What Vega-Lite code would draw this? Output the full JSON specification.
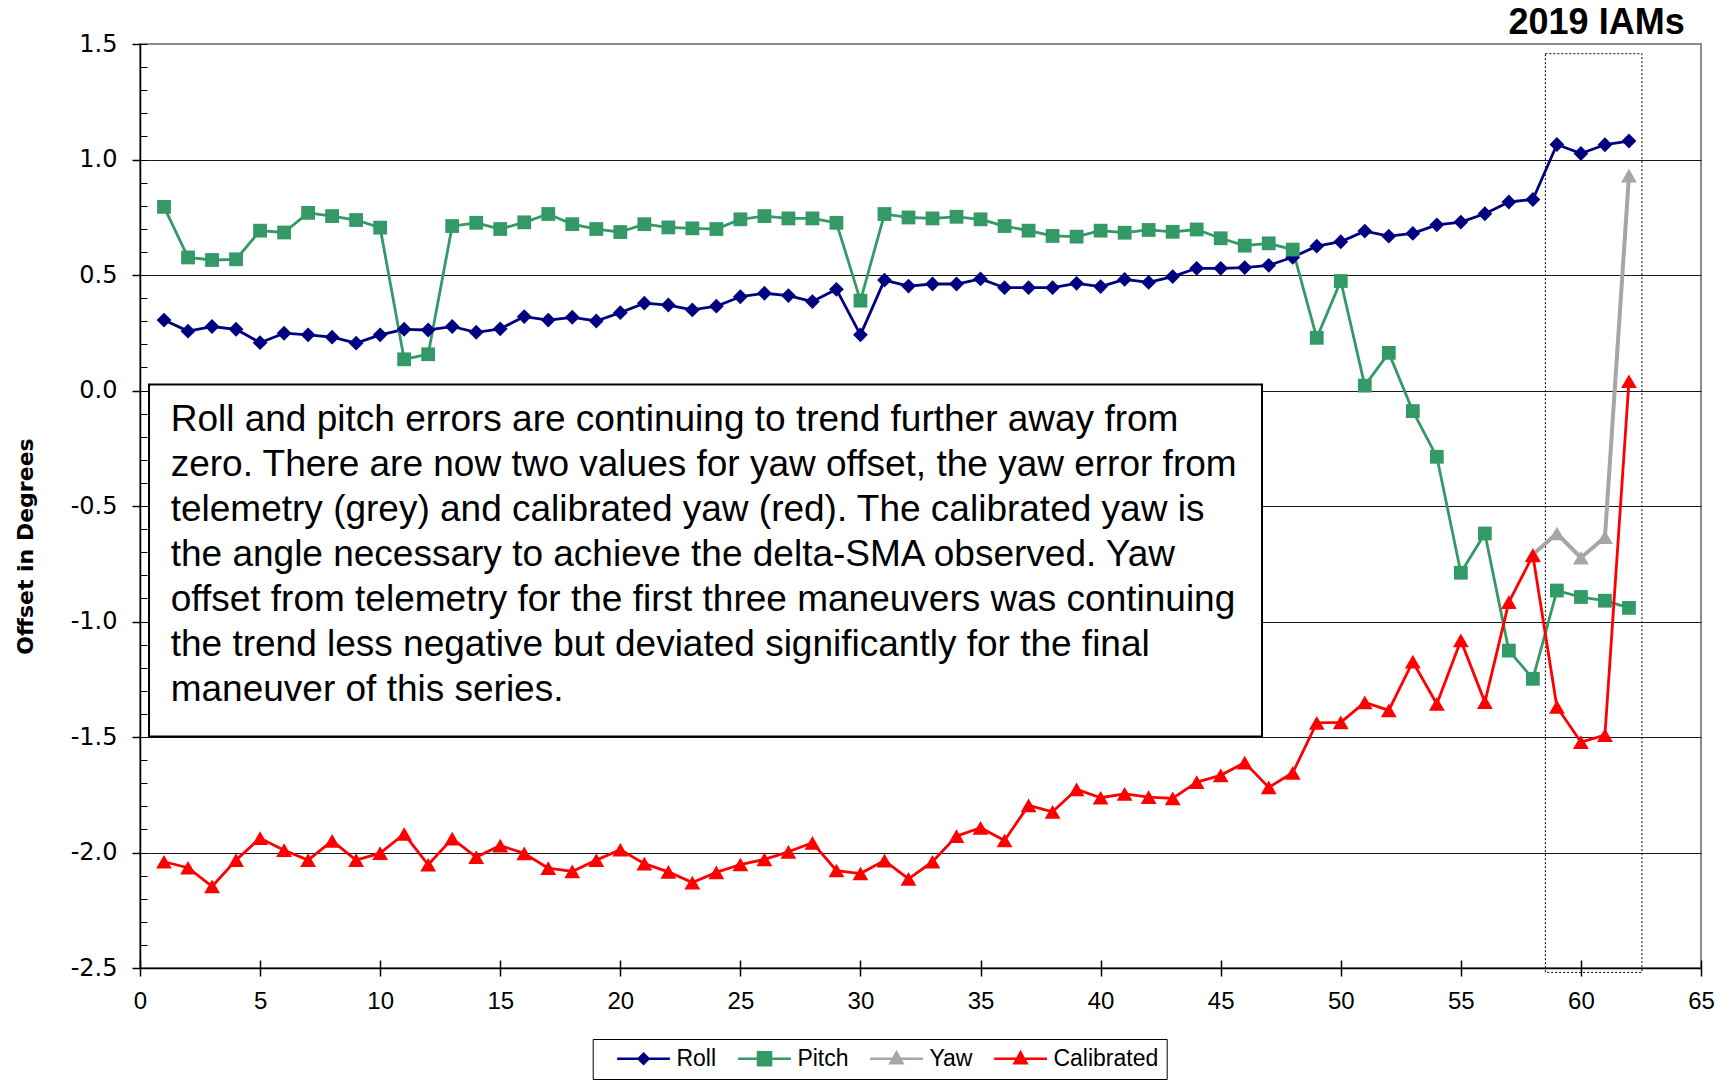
{
  "$schema": "https://vega.github.io/schema/vega-lite/v6.json",
  "width": 1561,
  "height": 924,
  "autosize": {"type": "none"},
  "padding": {"left": 140, "top": 44, "right": 28, "bottom": 113},
  "background": "white",
  "datasets": {
    "series": [
      {"x": 1, "Roll": 0.305, "Pitch": 0.795, "Calibrated": -2.04},
      {"x": 2, "Roll": 0.257, "Pitch": 0.576, "Calibrated": -2.066},
      {"x": 3, "Roll": 0.277, "Pitch": 0.565, "Calibrated": -2.147},
      {"x": 4, "Roll": 0.265, "Pitch": 0.568, "Calibrated": -2.033},
      {"x": 5, "Roll": 0.207, "Pitch": 0.692, "Calibrated": -1.938},
      {"x": 6, "Roll": 0.248, "Pitch": 0.684, "Calibrated": -1.99},
      {"x": 7, "Roll": 0.241, "Pitch": 0.769, "Calibrated": -2.033},
      {"x": 8, "Roll": 0.231, "Pitch": 0.755, "Calibrated": -1.95},
      {"x": 9, "Roll": 0.205, "Pitch": 0.738, "Calibrated": -2.033},
      {"x": 10, "Roll": 0.241, "Pitch": 0.705, "Calibrated": -2.003},
      {"x": 11, "Roll": 0.265, "Pitch": 0.135, "Calibrated": -1.92},
      {"x": 12, "Roll": 0.262, "Pitch": 0.157, "Calibrated": -2.053},
      {"x": 13, "Roll": 0.277, "Pitch": 0.712, "Calibrated": -1.94},
      {"x": 14, "Roll": 0.252, "Pitch": 0.726, "Calibrated": -2.02},
      {"x": 15, "Roll": 0.267, "Pitch": 0.699, "Calibrated": -1.97},
      {"x": 16, "Roll": 0.32, "Pitch": 0.728, "Calibrated": -2.004},
      {"x": 17, "Roll": 0.305, "Pitch": 0.764, "Calibrated": -2.068},
      {"x": 18, "Roll": 0.317, "Pitch": 0.72, "Calibrated": -2.082},
      {"x": 19, "Roll": 0.301, "Pitch": 0.699, "Calibrated": -2.033},
      {"x": 20, "Roll": 0.337, "Pitch": 0.686, "Calibrated": -1.988},
      {"x": 21, "Roll": 0.378, "Pitch": 0.72, "Calibrated": -2.048},
      {"x": 22, "Roll": 0.37, "Pitch": 0.706, "Calibrated": -2.084},
      {"x": 23, "Roll": 0.349, "Pitch": 0.702, "Calibrated": -2.13},
      {"x": 24, "Roll": 0.365, "Pitch": 0.699, "Calibrated": -2.086},
      {"x": 25, "Roll": 0.406, "Pitch": 0.741, "Calibrated": -2.052},
      {"x": 26, "Roll": 0.421, "Pitch": 0.755, "Calibrated": -2.03},
      {"x": 27, "Roll": 0.411, "Pitch": 0.745, "Calibrated": -1.997},
      {"x": 28, "Roll": 0.385, "Pitch": 0.745, "Calibrated": -1.958},
      {"x": 29, "Roll": 0.438, "Pitch": 0.726, "Calibrated": -2.078},
      {"x": 30, "Roll": 0.241, "Pitch": 0.389, "Calibrated": -2.091},
      {"x": 31, "Roll": 0.478, "Pitch": 0.764, "Calibrated": -2.035},
      {"x": 32, "Roll": 0.452, "Pitch": 0.749, "Calibrated": -2.114},
      {"x": 33, "Roll": 0.461, "Pitch": 0.745, "Calibrated": -2.04},
      {"x": 34, "Roll": 0.461, "Pitch": 0.752, "Calibrated": -1.929},
      {"x": 35, "Roll": 0.483, "Pitch": 0.741, "Calibrated": -1.893},
      {"x": 36, "Roll": 0.445, "Pitch": 0.712, "Calibrated": -1.948},
      {"x": 37, "Roll": 0.445, "Pitch": 0.692, "Calibrated": -1.796},
      {"x": 38, "Roll": 0.445, "Pitch": 0.669, "Calibrated": -1.824},
      {"x": 39, "Roll": 0.464, "Pitch": 0.666, "Calibrated": -1.727},
      {"x": 40, "Roll": 0.45, "Pitch": 0.692, "Calibrated": -1.763},
      {"x": 41, "Roll": 0.481, "Pitch": 0.683, "Calibrated": -1.746},
      {"x": 42, "Roll": 0.468, "Pitch": 0.695, "Calibrated": -1.76},
      {"x": 43, "Roll": 0.493, "Pitch": 0.687, "Calibrated": -1.766},
      {"x": 44, "Roll": 0.529, "Pitch": 0.697, "Calibrated": -1.695},
      {"x": 45, "Roll": 0.529, "Pitch": 0.659, "Calibrated": -1.666},
      {"x": 46, "Roll": 0.532, "Pitch": 0.627, "Calibrated": -1.611},
      {"x": 47, "Roll": 0.542, "Pitch": 0.637, "Calibrated": -1.718},
      {"x": 48, "Roll": 0.577, "Pitch": 0.61, "Calibrated": -1.655},
      {"x": 49, "Roll": 0.625, "Pitch": 0.228, "Calibrated": -1.439},
      {"x": 50, "Roll": 0.644, "Pitch": 0.474, "Calibrated": -1.437},
      {"x": 51, "Roll": 0.69, "Pitch": 0.021, "Calibrated": -1.35},
      {"x": 52, "Roll": 0.668, "Pitch": 0.163, "Calibrated": -1.385},
      {"x": 53, "Roll": 0.68, "Pitch": -0.089, "Calibrated": -1.174},
      {"x": 54, "Roll": 0.717, "Pitch": -0.287, "Calibrated": -1.357},
      {"x": 55, "Roll": 0.729, "Pitch": -0.789, "Calibrated": -1.082},
      {"x": 56, "Roll": 0.765, "Pitch": -0.619, "Calibrated": -1.349},
      {"x": 57, "Roll": 0.816, "Pitch": -1.126, "Calibrated": -0.916},
      {"x": 58, "Roll": 0.827, "Pitch": -1.248, "Yaw": -0.71, "Calibrated": -0.714},
      {"x": 59, "Roll": 1.065, "Pitch": -0.866, "Yaw": -0.619, "Calibrated": -1.37},
      {"x": 60, "Roll": 1.026, "Pitch": -0.894, "Yaw": -0.724, "Calibrated": -1.522},
      {"x": 61, "Roll": 1.064, "Pitch": -0.91, "Yaw": -0.635, "Calibrated": -1.492},
      {"x": 62, "Roll": 1.08, "Pitch": -0.941, "Yaw": 0.93, "Calibrated": 0.04}
    ],
    "iamBox": [{"x1": 58.52, "x2": 62.54, "y1": 1.458, "y2": -2.519}],
    "noteBox": [{"x1": 0.375, "x2": 46.72, "y1": 0.0255, "y2": -1.4976}],
    "heading": [{"x": 64.32, "y": 1.544, "t": "2019 IAMs"}],
    "note": [{"x": 1.278, "y": -0.177, "t": [
      "Roll and pitch errors are continuing to trend further away from",
      "zero. There are now two values for yaw offset, the yaw error from",
      "telemetry (grey) and calibrated yaw (red). The calibrated yaw is",
      "the angle necessary to achieve the delta-SMA observed. Yaw",
      "offset from telemetry for the first three maneuvers was continuing",
      "the trend less negative but deviated significantly for the final",
      "maneuver of this series."
    ]}]
  },
  "layer": [
    {
      "data": {"name": "iamBox"},
      "mark": {"type": "rect", "fill": null, "fillOpacity": 0, "stroke": "black", "strokeWidth": 1, "strokeDash": [2, 2]},
      "encoding": {
        "x": {"field": "x1", "type": "quantitative", "scale": {"domain": [0, 65], "nice": false, "zero": false}, "axis": null},
        "x2": {"field": "x2"},
        "y": {"field": "y1", "type": "quantitative", "scale": {"domain": [-2.5, 1.5], "nice": false, "zero": false}, "axis": null},
        "y2": {"field": "y2"}
      }
    },
    {
      "data": {"name": "series"},
      "transform": [
        {"fold": ["Roll", "Pitch", "Yaw", "Calibrated"], "as": ["key", "value"]},
        {"filter": "isValid(datum.value)"}
      ],
      "mark": {"type": "line", "strokeJoin": "round", "strokeWidth": 2.8},
      "encoding": {
        "x": {"field": "x", "type": "quantitative", "scale": {"domain": [0, 65], "nice": false, "zero": false},
          "axis": {"orient": "bottom", "values": [0, 5, 10, 15, 20, 25, 30, 35, 40, 45, 50, 55, 60, 65], "title": null, "grid": false,
            "domainColor": "black", "domainWidth": 1.5, "tickColor": "black", "tickWidth": 1.5, "tickSize": 8,
            "labelFont": "Liberation Sans", "labelFontSize": 24, "labelColor": "black", "labelPadding": 13, "labelFlush": false, "labelOverlap": false}},
        "y": {"field": "value", "type": "quantitative", "scale": {"domain": [-2.5, 1.5], "nice": false, "zero": false},
          "axis": {"orient": "left", "values": [-2.5, -2, -1.5, -1, -0.5, 0, 0.5, 1, 1.5], "grid": false,
            "labelExpr": "replace(format(datum.value, '.1f'), '\u2212', '-')",
            "labelFont": "DejaVu Sans", "labelFontSize": 24, "labelColor": "black", "labelPadding": 15, "labelFlush": false, "labelOverlap": false,
            "tickSize": 8, "tickColor": "black", "tickWidth": 1.5, "domainColor": "black", "domainWidth": 1.5,
            "title": "Offset in Degrees", "titleFont": "DejaVu Sans", "titleFontSize": 22, "titleFontWeight": "bold", "titleColor": "black",
            "titleAngle": -90, "titleBaseline": "alphabetic", "titleAlign": "center", "titleX": -108, "titleY": 502}},
        "color": {"field": "key", "type": "nominal", "scale": {"domain": ["Roll", "Pitch", "Yaw", "Calibrated"], "range": ["#000080", "#339966", "#A6A6A6", "#FF0000"]},
          "legend": {"orient": "none", "legendX": 452.7, "legendY": 995, "direction": "horizontal", "title": null,
            "padding": 8, "strokeColor": "black", "fillColor": "white",
            "symbolSize": 100, "symbolStrokeWidth": 2.5, "symbolOffset": 0, "labelOffset": 52.7, "columnPadding": 5,
            "labelFont": "Liberation Sans", "labelFontSize": 23, "labelColor": "black",
            "encode": {"symbols": {"update": {
              "shape": {"signal": "datum.value === 'Roll' ? 'M1,0H11.54M6.27,-1L7.27,0L6.27,1L5.27,0Z' : datum.value === 'Pitch' ? 'M1,0H11.54M4.97,-1.3H7.57V1.3H4.97Z' : 'M1,0H11.54M6.27,-1.3L7.47,0.9H5.07Z'"},
              "fill": {"scale": "color", "field": "value"},
              "fillOpacity": {"value": 1},
              "strokeWidth": {"value": 2.5},
              "size": {"value": 100}
            }}}}}
      }
    },
    {
      "data": {"name": "series"},
      "transform": [
        {"fold": ["Yaw"], "as": ["key", "value"]},
        {"filter": "isValid(datum.value)"}
      ],
      "mark": {"type": "line", "strokeJoin": "round", "strokeWidth": 4, "color": "#A6A6A6"},
      "encoding": {
        "x": {"field": "x", "type": "quantitative", "scale": {"domain": [0, 65], "nice": false, "zero": false}, "axis": null},
        "y": {"field": "value", "type": "quantitative", "scale": {"domain": [-2.5, 1.5], "nice": false, "zero": false}, "axis": null}
      }
    },
    {
      "data": {"name": "series"},
      "transform": [
        {"fold": ["Roll"], "as": ["key", "value"]},
        {"filter": "isValid(datum.value)"}
      ],
      "mark": {"type": "point", "filled": true, "opacity": 1, "strokeWidth": 0, "shape": "diamond", "size": 220, "color": "#000080"},
      "encoding": {
        "x": {"field": "x", "type": "quantitative", "scale": {"domain": [0, 65], "nice": false, "zero": false},
          "axis": {"orient": "bottom", "values": [0, 5, 10, 15, 20, 25, 30, 35, 40, 45, 50, 55, 60, 65], "title": null, "grid": false,
            "labels": false, "domain": false, "tickSize": -8, "tickColor": "black", "tickWidth": 1.5}},
        "y": {"field": "value", "type": "quantitative", "scale": {"domain": [-2.5, 1.5], "nice": false, "zero": false},
          "axis": {"orient": "left", "values": [-2.5, -2.4, -2.3, -2.2, -2.1, -2, -1.9, -1.8, -1.7, -1.6, -1.5, -1.4, -1.3, -1.2, -1.1, -1, -0.9, -0.8, -0.7, -0.6, -0.5, -0.4, -0.3, -0.2, -0.1, 0, 0.1, 0.2, 0.3, 0.4, 0.5, 0.6, 0.7, 0.8, 0.9, 1, 1.1, 1.2, 1.3, 1.4, 1.5],
            "title": null, "grid": false, "labels": false, "domain": false, "tickSize": -7, "tickColor": "black", "tickWidth": 1}}
      }
    },
    {
      "data": {"name": "series"},
      "transform": [
        {"fold": ["Pitch"], "as": ["key", "value"]},
        {"filter": "isValid(datum.value)"}
      ],
      "mark": {"type": "point", "filled": true, "opacity": 1, "strokeWidth": 0, "shape": "square", "size": 190, "color": "#339966"},
      "encoding": {
        "x": {"field": "x", "type": "quantitative", "scale": {"domain": [0, 65], "nice": false, "zero": false}, "axis": null},
        "y": {"field": "value", "type": "quantitative", "scale": {"domain": [-2.5, 1.5], "nice": false, "zero": false}, "axis": null}
      }
    },
    {
      "data": {"name": "series"},
      "transform": [
        {"fold": ["Yaw"], "as": ["key", "value"]},
        {"filter": "isValid(datum.value)"}
      ],
      "mark": {"type": "point", "filled": true, "opacity": 1, "strokeWidth": 0, "shape": "triangle-up", "size": 250, "color": "#A6A6A6"},
      "encoding": {
        "x": {"field": "x", "type": "quantitative", "scale": {"domain": [0, 65], "nice": false, "zero": false}, "axis": null},
        "y": {"field": "value", "type": "quantitative", "scale": {"domain": [-2.5, 1.5], "nice": false, "zero": false}, "axis": null}
      }
    },
    {
      "data": {"name": "series"},
      "transform": [
        {"fold": ["Calibrated"], "as": ["key", "value"]},
        {"filter": "isValid(datum.value)"}
      ],
      "mark": {"type": "point", "filled": true, "opacity": 1, "strokeWidth": 0, "shape": "triangle-up", "size": 250, "color": "#FF0000"},
      "encoding": {
        "x": {"field": "x", "type": "quantitative", "scale": {"domain": [0, 65], "nice": false, "zero": false}, "axis": null},
        "y": {"field": "value", "type": "quantitative", "scale": {"domain": [-2.5, 1.5], "nice": false, "zero": false}, "axis": null}
      }
    },
    {
      "data": {"name": "noteBox"},
      "mark": {"type": "rect", "fill": "white", "stroke": "black", "strokeWidth": 2},
      "encoding": {
        "x": {"field": "x1", "type": "quantitative", "scale": {"domain": [0, 65], "nice": false, "zero": false}, "axis": null},
        "x2": {"field": "x2"},
        "y": {"field": "y1", "type": "quantitative", "scale": {"domain": [-2.5, 1.5], "nice": false, "zero": false},
          "axis": {"orient": "left", "values": [-2, -1.5, -1, -0.5, 0, 0.5, 1], "grid": true, "gridColor": "#1a1a1a", "gridWidth": 1, "gridOpacity": 1,
            "labels": false, "ticks": false, "domain": false, "title": null}},
        "y2": {"field": "y2"}
      }
    },
    {
      "data": {"name": "note"},
      "mark": {"type": "text", "align": "left", "baseline": "alphabetic", "font": "Liberation Sans", "fontSize": 37, "lineHeight": 45, "color": "black"},
      "encoding": {
        "x": {"field": "x", "type": "quantitative", "scale": {"domain": [0, 65], "nice": false, "zero": false}, "axis": null},
        "y": {"field": "y", "type": "quantitative", "scale": {"domain": [-2.5, 1.5], "nice": false, "zero": false}, "axis": null},
        "text": {"field": "t", "type": "nominal"}
      }
    },
    {
      "data": {"name": "heading"},
      "mark": {"type": "text", "align": "right", "baseline": "alphabetic", "font": "Liberation Sans", "fontSize": 36, "fontWeight": "bold", "color": "black"},
      "encoding": {
        "x": {"field": "x", "type": "quantitative", "scale": {"domain": [0, 65], "nice": false, "zero": false}, "axis": null},
        "y": {"field": "y", "type": "quantitative", "scale": {"domain": [-2.5, 1.5], "nice": false, "zero": false}, "axis": null},
        "text": {"field": "t", "type": "nominal"}
      }
    }
  ],
  "resolve": {"axis": {"x": "independent", "y": "independent"}},
  "config": {
    "view": {"stroke": "#8c8c8c", "strokeWidth": 2},
    "axis": {"labelFont": "Liberation Sans"}
  }
}
